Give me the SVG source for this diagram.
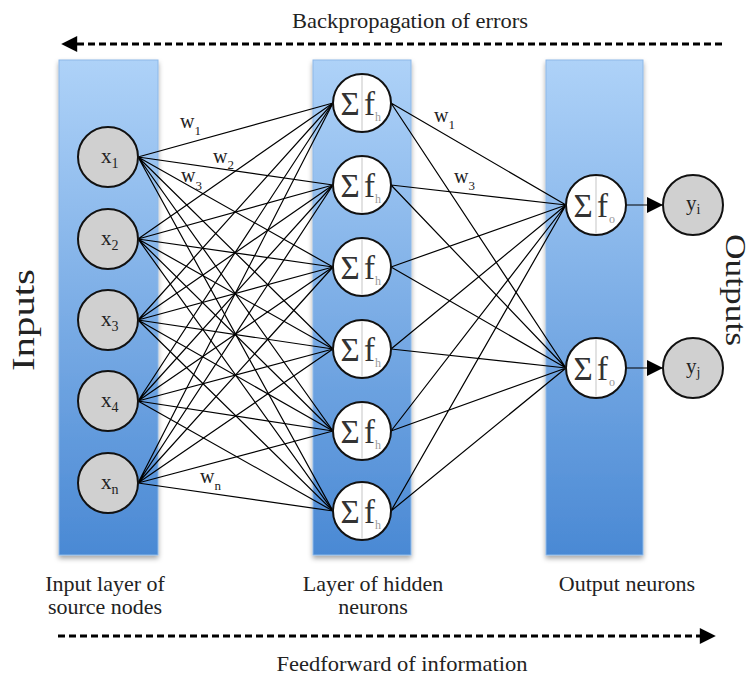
<svg xmlns="http://www.w3.org/2000/svg" width="752" height="677" viewBox="0 0 752 677" font-family="'Liberation Serif', 'DejaVu Serif', 'Times New Roman', serif">
  <defs>
    <linearGradient id="colFill" x1="0" y1="0" x2="0" y2="1">
      <stop offset="0" stop-color="#aed2f8"/>
      <stop offset="1" stop-color="#4a89d4"/>
    </linearGradient>
    <filter id="shadow" x="-20%" y="-10%" width="140%" height="120%">
      <feDropShadow dx="0" dy="3" stdDeviation="2.5" flood-color="#000" flood-opacity="0.35"/>
    </filter>
    <marker id="flowHead" viewBox="0 0 10 10" refX="2" refY="5" markerWidth="17" markerHeight="16" orient="auto" markerUnits="userSpaceOnUse">
      <path d="M0,0 L10,5 L0,10 Z" fill="#000"/>
    </marker>
    <marker id="outHead" viewBox="0 0 10 10" refX="10" refY="5" markerWidth="18" markerHeight="16" orient="auto" markerUnits="userSpaceOnUse">
      <path d="M0,0 L10,5 L0,10 Z" fill="#000"/>
    </marker>
  </defs>
  <style>
    .col { fill: url(#colFill); stroke: #8db8e8; stroke-width: 1; filter: url(#shadow); }
    .src { fill: #d0d0d0; stroke: #111; stroke-width: 2; }
    .sum { fill: #fff; stroke: #111; stroke-width: 2; }
    .div { stroke: #cfcfcf; stroke-width: 1.2; }
    .edge { stroke: #000; stroke-width: 1.2; fill: none; }
    .flow { stroke: #000; stroke-width: 3; stroke-dasharray: 7 4; fill: none; }
    text { font-family: "Liberation Serif", "DejaVu Serif", "Times New Roman", serif; fill: #222; }
    .lbl { font-size: 22px; text-anchor: middle; }
    .nd { font-size: 21px; }
    .ndsub { font-size: 14px; }
    .sg { font-size: 33px; fill: #333; text-anchor: middle; }
    .f { font-size: 33px; fill: #333; }
    .fs { font-size: 12px; fill: #999; }
    .w { font-size: 20px; }
    .ws { font-size: 13px; }
  </style>

  <!-- layer columns -->
  <g id="columns">
    <rect class="col" x="59" y="60" width="99" height="495"/>
    <rect class="col" x="313" y="60" width="98" height="495"/>
    <rect class="col" x="546" y="60" width="97" height="495"/>
  </g>

  <!-- weighted connections -->
  <g id="connectors">
    <g class="edge">
      <!-- inputs to hidden layer -->
      <path d="M138,157 L333,103 M138,157 L333,185 M138,157 L333,267 M138,157 L333,349 M138,157 L333,431 M138,157 L333,511"/>
      <path d="M138,239 L333,103 M138,239 L333,185 M138,239 L333,267 M138,239 L333,349 M138,239 L333,431 M138,239 L333,511"/>
      <path d="M138,320 L333,103 M138,320 L333,185 M138,320 L333,267 M138,320 L333,349 M138,320 L333,431 M138,320 L333,511"/>
      <path d="M138,401 L333,103 M138,401 L333,185 M138,401 L333,267 M138,401 L333,349 M138,401 L333,431 M138,401 L333,511"/>
      <path d="M138,483 L333,103 M138,483 L333,185 M138,483 L333,267 M138,483 L333,349 M138,483 L333,431 M138,483 L333,511"/>
      <!-- hidden layer to outputs -->
      <path d="M391,103 L566,205 M391,103 L566,368 M391,185 L566,205 M391,185 L566,368 M391,267 L566,205 M391,267 L566,368"/>
      <path d="M391,349 L566,205 M391,349 L566,368 M391,431 L566,205 M391,431 L566,368 M391,511 L566,205 M391,511 L566,368"/>
    </g>
    <path class="edge" d="M626,205 L663,205" marker-end="url(#outHead)"/>
    <path class="edge" d="M626,368 L663,368" marker-end="url(#outHead)"/>
    <!-- weight labels -->
    <text class="w" x="180" y="128">w<tspan class="ws" dy="7">1</tspan></text>
    <text class="w" x="213" y="163">w<tspan class="ws" dy="6">2</tspan></text>
    <text class="w" x="181" y="182">w<tspan class="ws" dy="8">3</tspan></text>
    <text class="w" x="200" y="483">w<tspan class="ws" dy="7">n</tspan></text>
    <text class="w" x="434" y="122">w<tspan class="ws" dy="7">1</tspan></text>
    <text class="w" x="454" y="183">w<tspan class="ws" dy="7">3</tspan></text>
  </g>

  <!-- input (source) nodes -->
  <g id="x1"><circle class="src" cx="108" cy="157" r="30"/><text class="nd" x="101" y="163">x<tspan class="ndsub" dy="5">1</tspan></text></g>
  <g id="x2"><circle class="src" cx="108" cy="239" r="30"/><text class="nd" x="101" y="245">x<tspan class="ndsub" dy="5">2</tspan></text></g>
  <g id="x3"><circle class="src" cx="108" cy="320" r="30"/><text class="nd" x="101" y="326">x<tspan class="ndsub" dy="5">3</tspan></text></g>
  <g id="x4"><circle class="src" cx="108" cy="401" r="30"/><text class="nd" x="101" y="407">x<tspan class="ndsub" dy="5">4</tspan></text></g>
  <g id="xn"><circle class="src" cx="108" cy="483" r="30"/><text class="nd" x="101" y="489">x<tspan class="ndsub" dy="5">n</tspan></text></g>

  <!-- hidden neurons -->
  <g id="h1"><circle class="sum" cx="362" cy="103" r="29"/><line class="div" x1="362" y1="75" x2="362" y2="131"/><text class="sg" x="350" y="115">Σ</text><text class="f" x="364" y="115">f</text><text class="fs" x="375" y="121">h</text></g>
  <g id="h2"><circle class="sum" cx="362" cy="185" r="29"/><line class="div" x1="362" y1="157" x2="362" y2="213"/><text class="sg" x="350" y="197">Σ</text><text class="f" x="364" y="197">f</text><text class="fs" x="375" y="203">h</text></g>
  <g id="h3"><circle class="sum" cx="362" cy="267" r="29"/><line class="div" x1="362" y1="239" x2="362" y2="295"/><text class="sg" x="350" y="279">Σ</text><text class="f" x="364" y="279">f</text><text class="fs" x="375" y="285">h</text></g>
  <g id="h4"><circle class="sum" cx="362" cy="349" r="29"/><line class="div" x1="362" y1="321" x2="362" y2="377"/><text class="sg" x="350" y="361">Σ</text><text class="f" x="364" y="361">f</text><text class="fs" x="375" y="367">h</text></g>
  <g id="h5"><circle class="sum" cx="362" cy="431" r="29"/><line class="div" x1="362" y1="403" x2="362" y2="459"/><text class="sg" x="350" y="443">Σ</text><text class="f" x="364" y="443">f</text><text class="fs" x="375" y="449">h</text></g>
  <g id="h6"><circle class="sum" cx="362" cy="511" r="29"/><line class="div" x1="362" y1="483" x2="362" y2="539"/><text class="sg" x="350" y="523">Σ</text><text class="f" x="364" y="523">f</text><text class="fs" x="375" y="529">h</text></g>

  <!-- output neurons -->
  <g id="o1"><circle class="sum" cx="596" cy="205" r="30"/><line class="div" x1="596" y1="176" x2="596" y2="234"/><text class="sg" x="583" y="217">Σ</text><text class="f" x="597" y="217">f</text><text class="fs" x="609" y="223">o</text></g>
  <g id="o2"><circle class="sum" cx="596" cy="368" r="30"/><line class="div" x1="596" y1="339" x2="596" y2="397"/><text class="sg" x="583" y="380">Σ</text><text class="f" x="597" y="380">f</text><text class="fs" x="609" y="386">o</text></g>

  <!-- outputs -->
  <g id="yi"><circle class="src" cx="693" cy="205" r="30"/><text class="nd" x="686" y="210">y<tspan class="ndsub" dy="4">i</tspan></text></g>
  <g id="yj"><circle class="src" cx="693" cy="368" r="30"/><text class="nd" x="686" y="373">y<tspan class="ndsub" dy="4">j</tspan></text></g>

  <!-- side titles -->
  <text x="34" y="320" font-size="31" text-anchor="middle" textLength="102" lengthAdjust="spacingAndGlyphs" transform="rotate(-90 34 320)">Inputs</text>
  <text x="726" y="290" font-size="30" text-anchor="middle" textLength="112" lengthAdjust="spacingAndGlyphs" transform="rotate(90 726 290)">Outputs</text>

  <!-- propagation arrows -->
  <g id="backprop">
    <text class="lbl" x="410" y="28" textLength="236" lengthAdjust="spacingAndGlyphs">Backpropagation of errors</text>
    <path class="flow" d="M722,44 L74,44" marker-end="url(#flowHead)"/>
  </g>
  <g id="feedforward">
    <path class="flow" d="M58,636 L703,636" marker-end="url(#flowHead)"/>
    <text class="lbl" x="402" y="671" textLength="251" lengthAdjust="spacingAndGlyphs">Feedforward of information</text>
  </g>

  <!-- layer captions -->
  <text class="lbl" x="105" y="591">Input layer of</text>
  <text class="lbl" x="105" y="614">source nodes</text>
  <text class="lbl" x="373" y="591">Layer of hidden</text>
  <text class="lbl" x="373" y="614">neurons</text>
  <text class="lbl" x="627" y="591">Output neurons</text>
</svg>
